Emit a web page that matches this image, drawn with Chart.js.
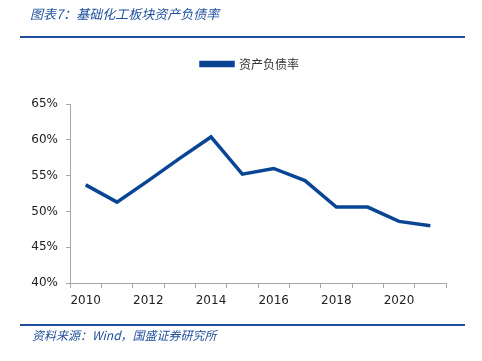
<!DOCTYPE html>
<html>
<head>
<meta charset="utf-8">
<script src="https://cdn.jsdelivr.net/npm/chart.js@4"></script>
<style>
  html, body { margin: 0; padding: 0; background: #fff; }
  #wrap { position: relative; width: 482px; height: 361px; overflow: hidden; }
  #title { position: absolute; left: 30px; top: 4px; font: italic 13px "Noto Sans CJK SC", sans-serif; color: #1f4f9c; }
  #topLine { position: absolute; left: 20px; top: 36px; width: 445px; height: 2px; background: #1f4f9c; }
  #botLine { position: absolute; left: 20px; top: 324px; width: 445px; height: 2px; background: #1f4f9c; }
  #source { position: absolute; left: 32px; top: 326px; font: italic 12px "Noto Sans CJK SC", sans-serif; color: #1f4f9c; }
  #chart { position: absolute; left: 0; top: 0; }
</style>
</head>
<body>
<div id="wrap">
  <canvas id="chart" width="482" height="361"></canvas>
  <div id="title">图表7：基础化工板块资产负债率</div>
  <div id="topLine"></div>
  <div id="botLine"></div>
  <div id="source">资料来源：Wind，国盛证券研究所</div>
</div>
<script>
// Data
const years = ['2010', '2011', '2012', '2013', '2014', '2015', '2016', '2017', '2018', '2019', '2020', '2021'];
const debtRatio = [53.7, 51.3, 54.3, 57.4, 60.4, 55.2, 56.0, 54.3, 50.6, 50.6, 48.6, 48.0];
const yTicks = [40, 45, 50, 55, 60, 65];

const axisColor = '#a6a6a6';
const tickFont = { family: 'DejaVu Sans', size: 12 };

// Extra room below the legend, and centre it over the plot area
const legendSpacer = {
    id: 'legendSpacer',
    beforeInit: function(chart) {
        const origFit = chart.legend.fit;
        chart.legend.fit = function() {
            origFit.call(this);
            this.height += 24;
        };
    },
    afterLayout: function(chart) {
        chart.legend.left += 27;
        chart.legend.right += 27;
    }
};

const ctx = document.getElementById('chart').getContext('2d');
const chart = new Chart(ctx, {
    type: 'line',
    data: {
        labels: years,
        datasets: [{
            label: '资产负债率',
            data: debtRatio,
            borderColor: '#0a4595',
            backgroundColor: '#0a4595',
            borderWidth: 3.5,
            pointRadius: 0,
            tension: 0
        }]
    },
    options: {
        responsive: false,
        animation: false,
        layout: { padding: { left: 0, right: 36, top: 48, bottom: 0 } },
        plugins: {
            legend: {
                position: 'top',
                labels: {
                    boxWidth: 32,
                    boxHeight: 3,
                    color: '#333',
                    font: { family: 'Noto Sans CJK SC', size: 12 },
                    padding: 10
                }
            },
            tooltip: { enabled: false }
        },
        scales: {
            x: {
                offset: true,
                grid: {
                    offset: true,
                    drawOnChartArea: false,
                    drawTicks: true,
                    tickLength: 5,
                    color: axisColor
                },
                border: { color: axisColor },
                ticks: {
                    autoSkip: false,
                    maxRotation: 0,
                    color: '#222',
                    font: tickFont,
                    padding: 6,
                    callback: function(v, i) { return i % 2 === 0 ? years[i] : ''; }
                },
                afterFit: function(s) { s.height = 78; }
            },
            y: {
                min: 40,
                max: 65,
                afterBuildTicks: function(s) { s.ticks = yTicks.map(v => ({ value: v })); },
                grid: {
                    drawOnChartArea: false,
                    drawTicks: true,
                    tickLength: 4,
                    color: axisColor
                },
                border: { color: axisColor },
                ticks: {
                    color: '#222',
                    font: tickFont,
                    padding: 8,
                    callback: function(v) { return v + '%'; }
                },
                afterFit: function(s) { s.width = 70; }
            }
        }
    },
    plugins: [legendSpacer]
});
</script>
</body>
</html>
